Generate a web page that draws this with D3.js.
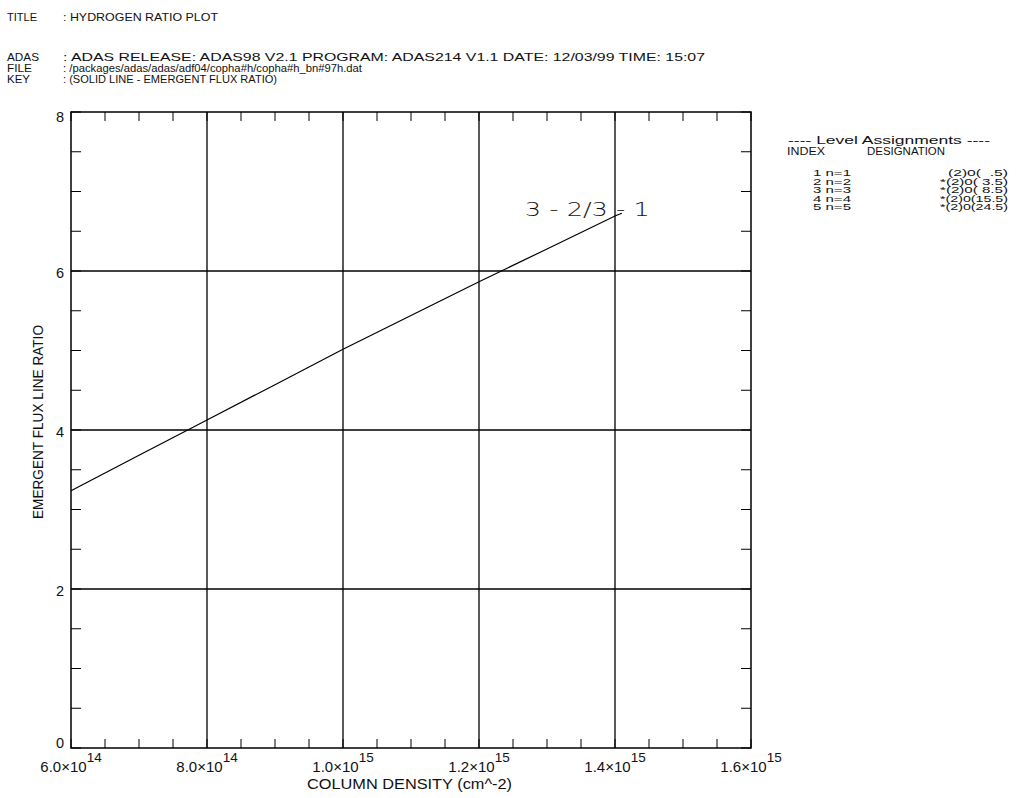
<!DOCTYPE html>
<html>
<head>
<meta charset="utf-8">
<script src="https://cdn.jsdelivr.net/npm/d3@7"></script>
<style>
  html, body { margin: 0; padding: 0; background: #fff; }
  svg { display: block; }
  text { font-family: "Liberation Sans", Arial, sans-serif; fill: #111; }
</style>
</head>
<body>
<script>
// ---------------- data ----------------
const columnDensity = [6.0e14, 7.0e14, 8.0e14, 9.0e14, 1.0e15, 1.1e15, 1.2e15, 1.3e15, 1.4e15, 1.41e15];
const fluxRatio     = [3.236, 3.683, 4.126, 4.570, 5.015, 5.440, 5.865, 6.277, 6.692, 6.726];
const lineLabel = "3 - 2/3 - 1";

const xMajorTicks = [6.0e14, 8.0e14, 1.0e15, 1.2e15, 1.4e15, 1.6e15];
const xTickMantissa = ["6.0\u00d710", "8.0\u00d710", "1.0\u00d710", "1.2\u00d710", "1.4\u00d710", "1.6\u00d710"];
const xTickExponent = ["14", "14", "15", "15", "15", "15"];
const yMajorTicks = [0, 2, 4, 6, 8];
const yTickLabels = ["0", "2", "4", "6", "8"];

const headerKeys = ["TITLE", "ADAS", "FILE", "KEY"];
const headerValues = [
  ": HYDROGEN RATIO PLOT",
  ": ADAS RELEASE: ADAS98 V2.1 PROGRAM: ADAS214 V1.1 DATE: 12/03/99 TIME: 15:07",
  ": /packages/adas/adas/adf04/copha#h/copha#h_bn#97h.dat",
  ": (SOLID LINE - EMERGENT FLUX RATIO)"
];

const levelIndex = ["1 n=1", "2 n=2", "3 n=3", "4 n=4", "5 n=5"];
const levelDesignation = ["(2)0(  .5)", "*(2)0( 3.5)", "*(2)0( 8.5)", "*(2)0(15.5)", "*(2)0(24.5)"];

const xTitle = "COLUMN DENSITY (cm^-2)";
const yTitle = "EMERGENT FLUX LINE RATIO";

// ---------------- layout ----------------
const W = 1019, H = 798;
const L = 71, R = 751, T = 112, B = 748;

const svg = d3.select("body").append("svg").attr("width", W).attr("height", H);

const x = d3.scaleLinear().domain([6.0e14, 1.6e15]).range([L, R]);
const y = d3.scaleLinear().domain([0, 8]).range([B, T]);

// ---------------- header ----------------
const hdrBase = [21, 61, 72, 82.5];
const hdrKeyLen = [30, 32, 25, 23];
const hdrValLen = [155, 642, 299, 214];
headerKeys.forEach((k, i) => {
  svg.append("text").attr("x", 7).attr("y", hdrBase[i]).attr("font-size", 11)
    .attr("textLength", hdrKeyLen[i]).attr("lengthAdjust", "spacingAndGlyphs").text(k);
  svg.append("text").attr("x", 63).attr("y", hdrBase[i]).attr("font-size", 11)
    .attr("textLength", hdrValLen[i]).attr("lengthAdjust", "spacingAndGlyphs").text(headerValues[i]);
});

// ---------------- grid ----------------
const g = svg.append("g");
g.selectAll(".vg").data(xMajorTicks.slice(1, -1)).enter().append("line")
  .attr("x1", d => x(d)).attr("x2", d => x(d)).attr("y1", T).attr("y2", B)
  .attr("stroke", "#000").attr("stroke-width", 1.3);
g.selectAll(".hg").data(yMajorTicks.slice(1, -1)).enter().append("line")
  .attr("x1", L).attr("x2", R).attr("y1", d => y(d)).attr("y2", d => y(d))
  .attr("stroke", "#000").attr("stroke-width", 1.3);

// ---------------- minor ticks (inward, all four sides) ----------------
const xMinor = d3.range(0, 21).map(i => 6.0e14 + i * 0.5e14);
const yMinor = d3.range(0, 17).map(i => i * 0.5);
const tk = svg.append("g").attr("stroke", "#000").attr("stroke-width", 1);
tk.selectAll(".xb").data(xMinor).enter().append("line")
  .attr("x1", d => x(d)).attr("x2", d => x(d)).attr("y1", B).attr("y2", B - 9);
tk.selectAll(".xt").data(xMinor).enter().append("line")
  .attr("x1", d => x(d)).attr("x2", d => x(d)).attr("y1", T).attr("y2", T + 9);
tk.selectAll(".yl").data(yMinor).enter().append("line")
  .attr("x1", L).attr("x2", L + 10).attr("y1", d => y(d)).attr("y2", d => y(d));
tk.selectAll(".yr").data(yMinor).enter().append("line")
  .attr("x1", R).attr("x2", R - 10).attr("y1", d => y(d)).attr("y2", d => y(d));

// frame
svg.append("rect").attr("x", L).attr("y", T).attr("width", R - L).attr("height", B - T)
  .attr("fill", "none").attr("stroke", "#000").attr("stroke-width", 1.5);

// ---------------- tick labels ----------------
xMajorTicks.forEach((d, i) => {
  const t = svg.append("text").attr("x", x(d)).attr("y", 772).attr("text-anchor", "middle")
    .attr("font-size", 15);
  t.append("tspan").text(xTickMantissa[i]);
  t.append("tspan").attr("dy", -10).attr("font-size", 13.5).text(xTickExponent[i]);
});
yMajorTicks.forEach((d, i) => {
  const off = d === 0 ? 0 : (d === 8 ? 10 : 7);
  svg.append("text").attr("x", 64).attr("y", y(d) + off).attr("text-anchor", "end")
    .attr("font-size", 14.5).text(yTickLabels[i]);
});

// ---------------- axis titles ----------------
svg.append("text").attr("x", 307).attr("y", 789).attr("font-size", 14)
  .attr("textLength", 205).attr("lengthAdjust", "spacingAndGlyphs").text(xTitle);
svg.append("text").attr("transform", "translate(43,519) rotate(-90)").attr("font-size", 15)
  .attr("textLength", 194).attr("lengthAdjust", "spacingAndGlyphs").text(yTitle);

// ---------------- data line ----------------
const pts = columnDensity.map((d, i) => [d, fluxRatio[i]]);
svg.append("path").datum(pts)
  .attr("d", d3.line().x(d => x(d[0])).y(d => y(d[1])))
  .attr("fill", "none").attr("stroke", "#000").attr("stroke-width", 1.2);

const last = pts[pts.length - 1];
svg.append("text").attr("x", x(last[0]) - 97).attr("y", y(last[1]) + 3)
  .attr("font-size", 20).attr("textLength", 125).attr("lengthAdjust", "spacingAndGlyphs")
  .style("font-family", "'DejaVu Sans', sans-serif").style("font-weight", 300)
  .text(lineLabel);

// ---------------- level assignments ----------------
svg.append("text").attr("x", 788).attr("y", 144).attr("font-size", 11)
  .attr("textLength", 202).attr("lengthAdjust", "spacingAndGlyphs")
  .text("---- Level Assignments ----");
svg.append("text").attr("x", 787).attr("y", 155).attr("font-size", 10)
  .attr("textLength", 38).attr("lengthAdjust", "spacingAndGlyphs").text("INDEX");
svg.append("text").attr("x", 867).attr("y", 155).attr("font-size", 10)
  .attr("textLength", 78).attr("lengthAdjust", "spacingAndGlyphs").text("DESIGNATION");
const rowBase = [176, 184.5, 193, 201.5, 210];
levelIndex.forEach((s, i) => {
  svg.append("text").attr("x", 813).attr("y", rowBase[i]).attr("font-size", 9)
    .attr("textLength", 38).attr("lengthAdjust", "spacingAndGlyphs").text(s);
  const w = i === 0 ? 60 : 68;
  svg.append("text").attr("x", 1008 - w).attr("y", rowBase[i]).attr("font-size", 9)
    .attr("textLength", w).attr("lengthAdjust", "spacingAndGlyphs")
    .attr("xml:space", "preserve").style("white-space", "pre")
    .text(levelDesignation[i]);
});
</script>
</body>
</html>
